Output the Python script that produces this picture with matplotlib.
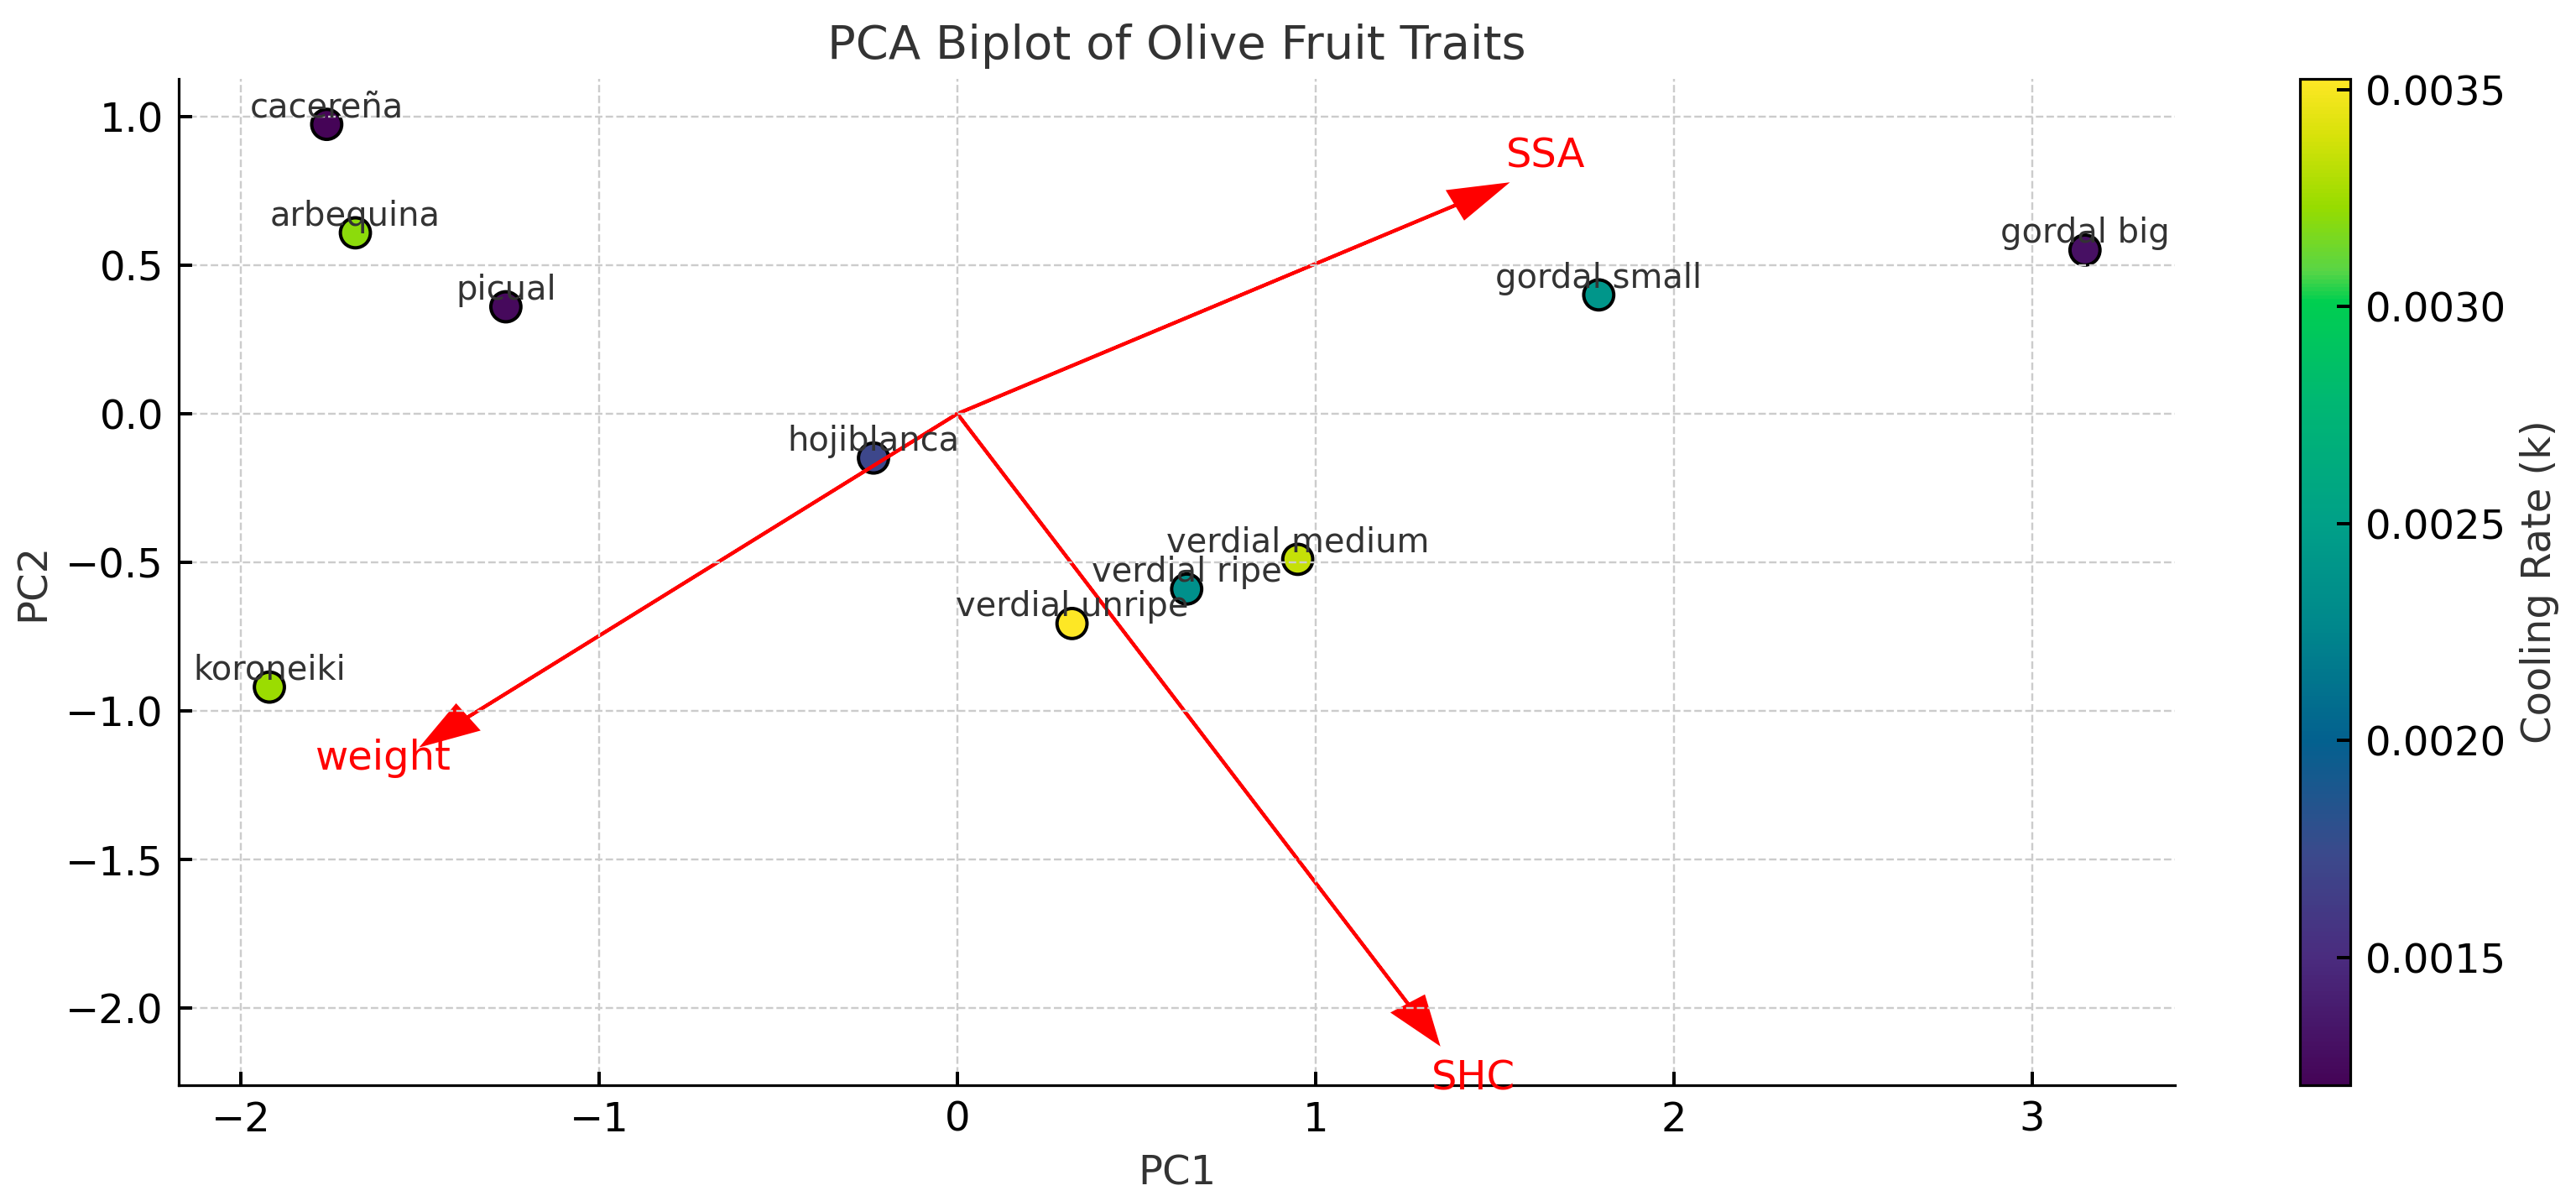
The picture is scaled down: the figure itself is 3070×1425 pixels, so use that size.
import matplotlib
matplotlib.use("Agg")
import matplotlib.pyplot as plt
from matplotlib.colors import LinearSegmentedColormap

# scores on the first two components
cultivars = ["cacereña", "arbequina", "picual", "hojiblanca", "koroneiki",
             "verdial unripe", "verdial ripe", "verdial medium",
             "gordal small", "gordal big"]
pc1 = [-1.76, -1.68, -1.26, -0.234, -1.92, 0.32, 0.64, 0.95, 1.79, 3.147]
pc2 = [0.974, 0.609, 0.36, -0.149, -0.92, -0.706, -0.59, -0.49, 0.40, 0.551]
cooling_rate = [0.001206, 0.00320, 0.00125, 0.00172, 0.00324,
                0.003525, 0.00234, 0.00335, 0.00241, 0.00130]

# loading vectors (arrow tips)
traits = ["SSA", "weight", "SHC"]
load_pc1 = [1.527, -1.489, 1.34]
load_pc2 = [0.771, -1.113, -2.116]

# viridis as it looks in the picture (a bit more saturated)
barve = [(0.0, '#450457'), (0.127, '#4a2c7f'), (0.23, '#3b4a8c'),
         (0.342, '#03618f'), (0.455, '#00878c'), (0.558, '#00a088'),
         (0.683, '#00b872'), (0.78, '#00cf50'), (0.81, '#58d546'),
         (0.873, '#96dc00'), (0.946, '#d8e20a'), (1.0, '#fde725')]
cmapa = LinearSegmentedColormap.from_list('viridis_sat', barve)

plt.rcParams['font.family'] = 'DejaVu Sans'
plt.rcParams['xtick.direction'] = 'in'
plt.rcParams['ytick.direction'] = 'in'

W, H, DPI = 3070, 1425, 288
fig = plt.figure(figsize=(W / DPI, H / DPI), dpi=DPI)
ax = fig.add_axes([213 / W, 1 - 1293 / H, (2592 - 213) / W, (1293 - 94) / H])
cax = fig.add_axes([2741 / W, 1 - 1293 / H, 60 / W, (1293 - 94) / H])

sc = ax.scatter(pc1, pc2, c=cooling_rate, cmap=cmapa, s=80,
                edgecolors='black', linewidths=1)

for i, nome in enumerate(cultivars):
    ax.text(pc1[i], pc2[i] + 0.025, nome, ha='center', fontsize=10, color='#333333')

for i, t in enumerate(traits):
    ax.arrow(0, 0, load_pc1[i], load_pc2[i], color='red', head_width=0.1,
             length_includes_head=True)
    ax.text(load_pc1[i] * 1.075, load_pc2[i] * 1.075, t, color='red',
            ha='center', fontsize=12)

ax.set_xlim(-2.173, 3.398)
ax.set_ylim(-2.26, 1.127)
ax.set_xticks([-2, -1, 0, 1, 2, 3])
ax.set_yticks([-2.0, -1.5, -1.0, -0.5, 0.0, 0.5, 1.0])

ax.grid(True, linestyle='--', linewidth=0.6, color='#cccccc')
ax.spines['top'].set_visible(False)
ax.spines['right'].set_visible(False)
ax.tick_params(labelsize=12, length=4, width=1, pad=4.5)

ax.set_title("PCA Biplot of Olive Fruit Traits", fontsize=14, color='#333333')
ax.set_xlabel("PC1", fontsize=12, color='#333333')
ax.set_ylabel("PC2", fontsize=12, color='#333333')

cb = fig.colorbar(sc, cax=cax)
cb.set_label("Cooling Rate (k)", fontsize=12, color='#333333')
cb.ax.tick_params(labelsize=12, direction='in', length=4, width=1, pad=4.5)

fig.savefig("out.png", dpi=DPI)
